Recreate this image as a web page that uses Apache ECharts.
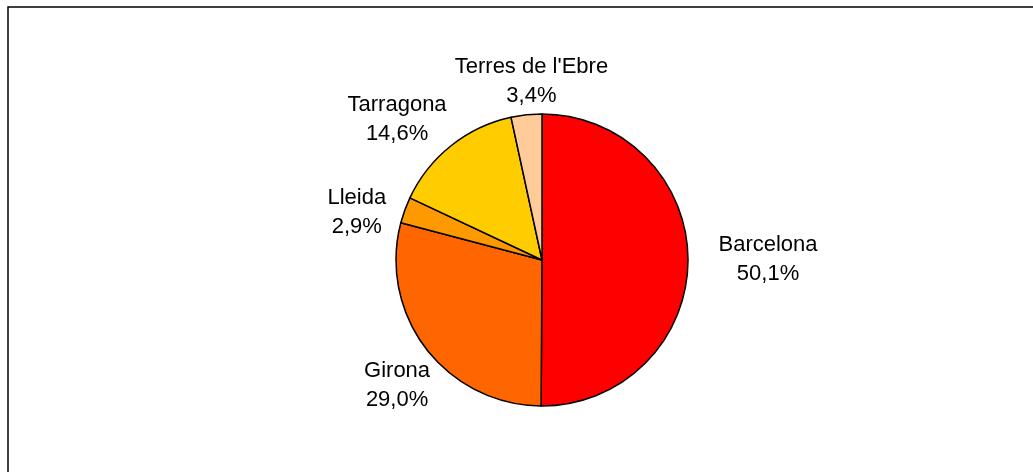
<!DOCTYPE html>
<html>
<head>
<meta charset="utf-8">
<script src="https://cdn.jsdelivr.net/npm/echarts@6/dist/echarts.min.js"></script>
<style>
  html, body { margin: 0; padding: 0; background: #fff; }
  #chart { width: 1033px; height: 472px; }
</style>
</head>
<body>
<div id="chart"></div>
<script>
const regions = ['Barcelona', 'Girona', 'Lleida', 'Tarragona', "Terres de l'Ebre"];
const shares = [50.1, 29.0, 2.9, 14.6, 3.4];
const colors = ['#FF0000', '#FF6600', '#FF9900', '#FFCC00', '#FFCC99'];

const cx = 542, cy = 260, r = 146;
// label shift from the outer mid point of each slice (px)
const labelShift = [[80, -1], [-29, 37], [-48, 2], [-54, -26], [5, -33]];

const total = shares.reduce((a, b) => a + b, 0);
const midAngle = (i) => {
  let before = 0;
  for (let k = 0; k < i; k++) before += shares[k];
  return ((before + shares[i] / 2) / total) * Math.PI * 2;
};

const chart = echarts.init(document.getElementById('chart'));
chart.setOption({
  animation: false,
  graphic: [{
    type: 'rect',
    shape: { x: 8, y: 7, width: 1200, height: 700 },
    style: { fill: 'none', stroke: '#000', lineWidth: 1.5 },
    silent: true
  }],
  series: [{
    type: 'pie',
    center: [cx, cy],
    radius: r,
    startAngle: 90,
    clockwise: true,
    avoidLabelOverlap: false,
    data: regions.map((name, i) => ({
      name,
      value: shares[i],
      itemStyle: { color: colors[i] }
    })),
    itemStyle: { borderColor: '#000', borderWidth: 1.5 },
    emphasis: { disabled: true },
    label: {
      show: true,
      position: 'outside',
      formatter: (p) => p.name + '\n' + p.value.toFixed(1).replace('.', ',') + '%',
      fontFamily: 'Liberation Sans, Arial, sans-serif',
      fontSize: 22,
      lineHeight: 29,
      color: '#000'
    },
    labelLine: { show: false },
    labelLayout: (params) => {
      const i = params.dataIndex;
      const a = midAngle(i);
      return {
        x: cx + r * Math.sin(a) + labelShift[i][0],
        y: cy - r * Math.cos(a) + labelShift[i][1],
        align: 'center',
        verticalAlign: 'middle'
      };
    }
  }]
});
</script>
</body>
</html>
